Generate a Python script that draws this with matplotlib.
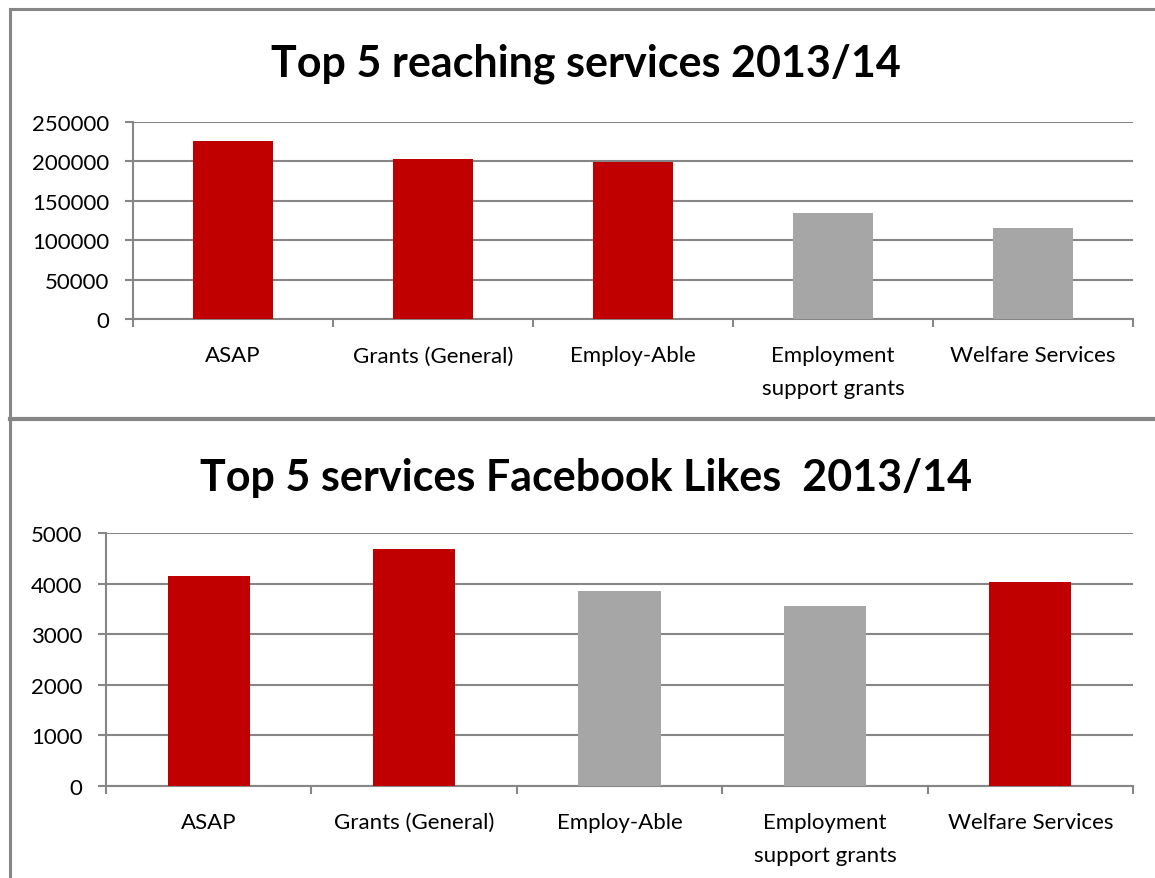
import matplotlib
matplotlib.use("Agg")
import matplotlib.pyplot as plt
from matplotlib.lines import Line2D
import numpy as np

plt.rcParams['font.family'] = ['Lato', 'DejaVu Sans']

# Data
categories_reach = ["ASAP", "Grants (General)", "Employ-Able",
                    "Employment\nsupport grants", "Welfare Services"]
reach_values = [225000, 202500, 198500, 134500, 115500]
reach_highlight = [True, True, True, False, False]

categories_likes = ["ASAP", "Grants (General)", "Employ-Able",
                    "Employment\nsupport grants", "Welfare Services"]
likes_values = [4150, 4690, 3860, 3560, 4030]
likes_highlight = [True, True, False, False, True]

RED = "#C00000"
GREY = "#A6A6A6"
GRID = "#868686"

W, H = 1155, 879
fig = plt.figure(figsize=(W / 100, H / 100), dpi=100)


def px_axes(left, top, right, bottom):
    return fig.add_axes([left / W, 1 - bottom / H, (right - left) / W, (bottom - top) / H])


def draw_panel(ax, cats, vals, hl, ymax, ystep, title, title_y):
    n = len(cats)
    x = np.arange(n)
    colors = [RED if h else GREY for h in hl]
    ax.bar(x, vals, width=0.4, color=colors, zorder=3)
    ax.set_xlim(-0.5, n - 0.5)
    ax.set_ylim(0, ymax)
    ax.set_yticks(np.arange(0, ymax + 1, ystep))
    ax.yaxis.grid(True, color=GRID, linewidth=1.5, zorder=0)
    ax.set_axisbelow(True)
    for s in ("top", "right"):
        ax.spines[s].set_visible(False)
    for s in ("left", "bottom"):
        ax.spines[s].set_color(GRID)
        ax.spines[s].set_linewidth(1.5)
    ax.set_xticks(np.arange(-0.5, n, 1.0))
    ax.set_xticklabels([])
    ax.set_xticks(x, minor=True)
    ax.set_xticklabels(cats, minor=True, fontsize=16, linespacing=1.78)
    ax.tick_params(axis="x", which="major", length=6, color=GRID, width=1.5)
    ax.tick_params(axis="x", which="minor", length=0, pad=19)
    ax.tick_params(axis="y", length=6, color=GRID, width=1.5, labelsize=16, pad=11)
    fig.text(0.5075, 1 - title_y / H, title, ha="center", va="baseline",
             fontsize=31, fontweight="bold")


ax1 = px_axes(133, 122.7, 1133, 320)
draw_panel(ax1, categories_reach, reach_values, reach_highlight, 250000, 50000,
           "Top 5 reaching services 2013/14", 77)

ax2 = px_axes(106, 534.3, 1133, 786.7)
draw_panel(ax2, categories_likes, likes_values, likes_highlight, 5000, 1000,
           "Top 5 services Facebook Likes  2013/14", 491)

# Panel frames
border = dict(color=GRID, linewidth=2.2, transform=fig.transFigure)
fig.add_artist(Line2D([10 / W, 10 / W], [0, 1 - 10 / H], **border))
fig.add_artist(Line2D([10 / W, 1], [1 - 10 / H, 1 - 10 / H], **border))
fig.add_artist(Line2D([10 / W, 1], [1 - 420 / H, 1 - 420 / H],
                      color=GRID, linewidth=3, transform=fig.transFigure))

fig.savefig("out.png", dpi=100)
